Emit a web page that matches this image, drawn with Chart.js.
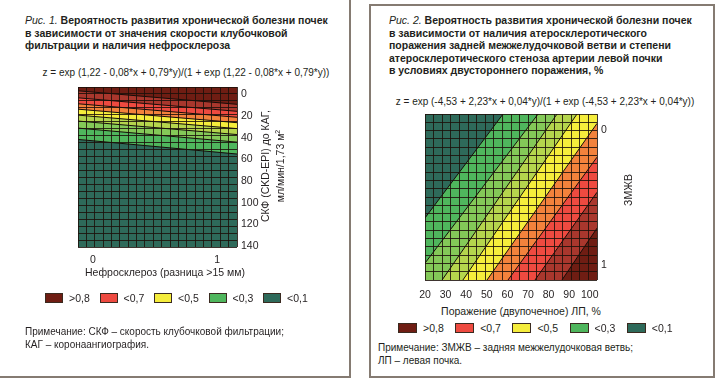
<!DOCTYPE html>
<html><head><meta charset="utf-8">
<script src="https://cdn.jsdelivr.net/npm/chart.js@4.4.0/dist/chart.umd.min.js"></script>
<style>
html,body{margin:0;padding:0;background:#fff}
body{width:720px;height:381px;position:relative;overflow:hidden;font-family:'Liberation Sans',Arial,Helvetica,sans-serif;color:#231f20}
.frame{position:absolute;box-sizing:border-box;border:2px solid #857b72}
.title{position:absolute;font-size:10.5px;line-height:12.5px;font-weight:bold;white-space:nowrap}
.title i{font-weight:normal}
.ctr{position:absolute;white-space:nowrap;transform:translate(-50%,-50%);font-size:10.5px}
.formula{font-size:10px}
.note{position:absolute;font-size:10px;line-height:12.5px;white-space:nowrap}
.lg-item{position:absolute;display:flex;align-items:center;font-size:10.5px;white-space:nowrap;transform:translateY(-50%)}
.lg-box{height:10px;box-sizing:border-box;border:1px solid #3a2a20;margin-right:6px}
.vtitle{position:absolute;transform:translate(-50%,-50%) rotate(-90deg);white-space:nowrap;font-size:10.5px}
.wrap{position:absolute}
</style></head>
<body>
<div class="frame" style="left:-3px;top:-3px;width:354px;height:381px"></div>
<div class="frame" style="left:369px;top:4px;width:346px;height:374px"></div>

<div class="title" style="left:25px;top:14px"><i>Рис. 1.</i> Вероятность развития хронической болезни почек<br>в зависимости от значения скорости клубочковой<br>фильтрации и наличия нефросклероза</div>
<div class="ctr formula" style="left:186px;top:72px">z = exp (1,22 - 0,08*x + 0,79*y)/(1 + exp (1,22 - 0,08*x + 0,79*y))</div>

<div class="title" style="left:389px;top:14px"><i>Рис. 2.</i> Вероятность развития хронической болезни почек<br>в зависимости от наличия атеросклеротического<br>поражения задней межжелудочковой ветви и степени<br>атеросклеротического стеноза артерии левой почки<br>в условиях двустороннего поражения, %</div>
<div class="ctr formula" style="left:545px;top:101px">z = exp (-4,53 + 2,23*x + 0,04*y)/(1 + exp (-4,53 + 2,23*x + 0,04*y))</div>

<div class="wrap" style="left:60px;top:76px;width:250px;height:191px"><canvas id="c1" width="250" height="191"></canvas></div>
<div class="wrap" style="left:400px;top:100px;width:260px;height:200px"><canvas id="c2" width="260" height="200"></canvas></div>

<div class="ctr" style="left:165px;top:272px">Нефросклероз (разница &gt;15 мм)</div>
<div class="vtitle" style="left:264.5px;top:166px">СКФ (CKD-EPI) до КАГ,</div>
<div class="vtitle" style="left:279.5px;top:166px">мл/мин/1,73 м<sup style="font-size:7px">2</sup></div>

<div class="ctr" style="left:521px;top:311px">Поражение (двупочечное) ЛП, %</div>
<div class="vtitle" style="left:628px;top:190px">ЗМЖВ</div>

<div id="lg1"></div>
<div id="lg2"></div>

<div class="note" style="left:25px;top:326px">Примечание: СКФ – скорость клубочковой фильтрации;<br>КАГ – коронаангиография.</div>
<div class="note" style="left:378px;top:342px">Примечание: ЗМЖВ – задняя межжелудочковая ветвь;<br>ЛП – левая почка.</div>

<script>
// ================= DATA =================
// Figure 1: GFR (СКФ) vs nephrosclerosis
const gfrTicks = [0, 20, 40, 60, 80, 100, 120, 140];
const nephroTicks = [0, 1];
const gfrExtent = [-7, 141];          // СКФ range covered by the surface (top -> bottom)
const nephroExtent = [-0.12, 1.16];   // нефросклероз range covered by the surface
// contour lines: СКФ value where each line meets the left edge and the right edge
const contourGfrLeft  = [-3.5, 3, 8.5, 13.5, 19, 24.5, 31, 41.5];
const contourGfrRight = [9, 15.5, 21, 26, 31.5, 37, 44, 55];

// Figure 2: ЛП lesion % vs ЗМЖВ
const lpTicks = [20, 30, 40, 50, 60, 70, 80, 90, 100];
const zmzhvTicks = [0, 1];
const lpExtent = [20, 103.5];
const zmzhvExtent = [-0.12, 1.11];
// contour lines: [ЛП, ЗМЖВ] at the lower-left end and at the upper-right end
const contourStart2 = [[20, 0.65], [20, 0.985], [28.3, 1.11], [38.4, 1.11], [50.1, 1.11], [60.3, 1.11], [73.4, 1.11], [86.5, 1.11]];
const contourEnd2   = [[57.9, -0.12], [74.9, -0.12], [84.1, -0.12], [93.8, -0.12], [103.5, -0.05], [103.5, 0.2], [103.5, 0.46], [103.5, 0.726]];

const legendLabels = ['>0,8', '<0,7', '<0,5', '<0,3', '<0,1'];

// ================= STYLE =================
const C = {
  brown: '#6f1d13', darkred: '#a9372d', red: '#ee4a40', orange: '#f3823c', yellow: '#f5ed3c',
  ygreen: '#b5d54d', lgreen: '#84c958', green: '#4fb65d', teal: '#2e6a5a'
};
const bandColors1 = [C.brown, C.darkred, C.red, C.orange, C.yellow, C.ygreen, C.lgreen, C.green, C.teal];
const bandColors2 = [C.teal, C.green, C.lgreen, C.ygreen, C.yellow, C.orange, C.red, C.darkred, C.brown];
const legendColors = [C.brown, C.red, C.yellow, C.green, C.teal];
const contourColor = '#140c08';
const meshColor = 'rgba(28,16,10,0.85)';
const textColor = '#231f20';
const tickFont = { family: "'Liberation Sans', Arial, sans-serif", size: 10.5 };

// ================= BUILD =================
function areaDataset(points, color, order, fillTo, diagFrom, diagTo) {
  return {
    data: points,
    backgroundColor: color,
    borderColor: contourColor,
    borderWidth: diagFrom === undefined ? 0 : 1,
    segment: {
      borderColor: ctx => (diagFrom !== undefined && ctx.p0DataIndex >= diagFrom && ctx.p1DataIndex <= diagTo) ? contourColor : 'rgba(0,0,0,0)'
    },
    fill: { value: fillTo },
    pointRadius: 0,
    tension: 0,
    order: order
  };
}

function meshAxis(pos, n) {
  return {
    type: 'linear', position: pos, min: 0, max: n,
    ticks: { display: false, stepSize: 1 },
    grid: { color: meshColor, lineWidth: 1, drawTicks: false, z: 1 },
    border: { display: false }
  };
}

// ---- Figure 1 ----
const ds1 = [];
ds1.push(areaDataset([{ x: nephroExtent[0], y: gfrExtent[0] }, { x: nephroExtent[1], y: gfrExtent[0] }],
  bandColors1[0], 100, gfrExtent[1]));
contourGfrLeft.forEach((yl, i) => {
  ds1.push(areaDataset([{ x: nephroExtent[0], y: yl }, { x: nephroExtent[1], y: contourGfrRight[i] }],
    bandColors1[i + 1], 99 - i, gfrExtent[1], 0, 1));
});

new Chart(document.getElementById('c1'), {
  type: 'line',
  data: { datasets: ds1 },
  options: {
    responsive: false, animation: false, events: [],
    layout: { padding: { left: 18, top: 11, right: 0, bottom: 0 } },
    plugins: { legend: { display: false }, tooltip: { enabled: false } },
    scales: {
      x: {
        type: 'linear', position: 'bottom', min: nephroExtent[0], max: nephroExtent[1],
        grid: { display: false, drawTicks: false }, border: { display: false },
        afterBuildTicks: s => { s.ticks = nephroTicks.map(v => ({ value: v })); },
        ticks: { padding: 7, font: tickFont, color: textColor, autoSkip: false, maxRotation: 0, minRotation: 0 },
        afterFit: s => { s.height = 20; }
      },
      y: {
        type: 'linear', position: 'right', reverse: true, min: gfrExtent[0], max: gfrExtent[1],
        grid: { display: false, drawTicks: false }, border: { display: false },
        afterBuildTicks: s => { s.ticks = gfrTicks.map(v => ({ value: v })); },
        ticks: { padding: 4, font: tickFont, color: textColor, autoSkip: false },
        afterFit: s => { s.width = 73; }
      },
      gx: meshAxis('top', 19),
      gy: meshAxis('left', 23)
    }
  }
});

// ---- Figure 2 ----
const ds2 = [];
ds2.push(areaDataset([{ x: lpExtent[0], y: zmzhvExtent[0] }, { x: lpExtent[1], y: zmzhvExtent[0] }],
  bandColors2[0], 100, zmzhvExtent[1]));
contourStart2.forEach((s, i) => {
  const e = contourEnd2[i];
  const pts = [];
  if (s[0] > lpExtent[0]) pts.push({ x: lpExtent[0], y: s[1] });
  const a = pts.length;
  pts.push({ x: s[0], y: s[1] }, { x: e[0], y: e[1] });
  if (e[0] < lpExtent[1]) pts.push({ x: lpExtent[1], y: e[1] });
  ds2.push(areaDataset(pts, bandColors2[i + 1], 99 - i, zmzhvExtent[1], a, a + 1));
});

new Chart(document.getElementById('c2'), {
  type: 'line',
  data: { datasets: ds2 },
  options: {
    responsive: false, animation: false, events: [],
    layout: { padding: { left: 25, top: 14, right: 0, bottom: 0 } },
    plugins: { legend: { display: false }, tooltip: { enabled: false } },
    scales: {
      x: {
        type: 'linear', position: 'bottom', min: lpExtent[0], max: lpExtent[1],
        grid: { display: false, drawTicks: false }, border: { display: false },
        afterBuildTicks: s => { s.ticks = lpTicks.map(v => ({ value: v })); },
        ticks: { padding: 9, font: tickFont, color: textColor, autoSkip: false, maxRotation: 0, minRotation: 0 },
        afterFit: s => { s.height = 20; }
      },
      y: {
        type: 'linear', position: 'right', reverse: true, min: zmzhvExtent[0], max: zmzhvExtent[1],
        grid: { display: false, drawTicks: false }, border: { display: false },
        afterBuildTicks: s => { s.ticks = zmzhvTicks.map(v => ({ value: v })); },
        ticks: { padding: 4, font: tickFont, color: textColor, autoSkip: false },
        afterFit: s => { s.width = 63; }
      },
      gx: meshAxis('top', 20),
      gy: meshAxis('left', 20)
    }
  }
});

// ---- legends ----
function buildLegend(id, x0, step, y, boxW) {
  const host = document.getElementById(id);
  legendLabels.forEach((lab, i) => {
    const it = document.createElement('div');
    it.className = 'lg-item';
    it.style.left = (x0 + i * step) + 'px';
    it.style.top = y + 'px';
    const b = document.createElement('span');
    b.className = 'lg-box';
    b.style.width = boxW + 'px';
    b.style.background = legendColors[i];
    const t = document.createElement('span');
    t.textContent = lab;
    it.appendChild(b); it.appendChild(t);
    host.appendChild(it);
  });
}
buildLegend('lg1', 45, 54.5, 298, 18);
buildLegend('lg2', 398, 57.2, 328, 19);
</script>
</body></html>
